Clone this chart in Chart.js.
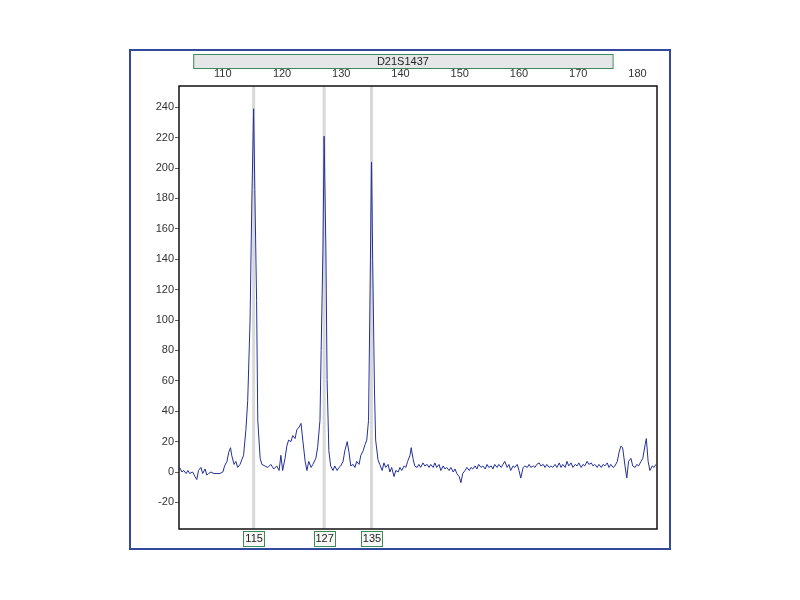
<!DOCTYPE html>
<html>
<head>
<meta charset="utf-8">
<script src="https://cdn.jsdelivr.net/npm/chart.js@4"></script>
<style>
  html, body { margin: 0; padding: 0; background: #fff; }
  #wrap { position: relative; width: 800px; height: 600px; }
  #frame { position: absolute; left: 129px; top: 49px; width: 542px; height: 501px;
           box-sizing: border-box; border: 2px solid #34499c; pointer-events: none; }
  canvas { position: absolute; left: 0; top: 0; }
</style>
</head>
<body>
<div id="wrap">
  <canvas id="traceChart" width="800" height="600"></canvas>
  <div id="frame"></div>
</div>
<script>
// --- Data ---
const markerName = 'D21S1437';
const binStart = 105;     // grey marker bar range (bp)
const binEnd = 175.8;

const xTicks = [110, 120, 130, 140, 150, 160, 170, 180];
const yTicks = [-20, 0, 20, 40, 60, 80, 100, 120, 140, 160, 180, 200, 220, 240];

const alleleSize = [115.2, 127.1, 135.1];
const alleleLabel = ['115', '127', '135'];

// size (bp) and signal (RFU) of the blue trace
const sizeBp = [
  102.7, 103.1, 103.4, 103.8, 104.1, 104.4, 104.9, 105.3, 105.6, 105.9,
  106.3, 106.6, 107.0, 107.3, 107.6, 108.0, 108.5, 109.0, 109.5, 110.0,
  110.3, 110.7, 111.0, 111.3, 111.5, 111.9, 112.2, 112.5, 112.9, 113.2,
  113.5, 113.9, 114.2, 114.6, 114.9, 115.2, 115.4, 115.7, 115.9, 116.3,
  116.6, 117.1, 117.6, 118.1, 118.6, 119.1, 119.5, 119.8, 120.1, 120.5,
  120.8, 121.1, 121.5, 121.8, 122.2, 122.5, 122.8, 123.2, 123.5, 123.9,
  124.2, 124.5, 124.9, 125.2, 125.7, 126.0, 126.4, 126.6, 126.9, 127.1,
  127.4, 127.6, 127.9, 128.2, 128.6, 128.9, 129.3, 129.6, 129.9, 130.3,
  130.6, 131.0, 131.3, 131.6, 132.0, 132.3, 132.6, 133.0, 133.3, 133.7,
  134.0, 134.3, 134.6, 134.8, 135.1, 135.3, 135.6, 135.8, 136.2, 136.5,
  136.9, 137.2, 137.5, 137.9, 138.2, 138.5, 138.9, 139.2, 139.6, 139.9,
  140.2, 140.6, 140.9, 141.2, 141.6, 141.8, 142.1, 142.4, 142.8, 143.1,
  143.4, 143.8, 144.1, 144.5, 144.8, 145.1, 145.5, 145.8, 146.1, 146.5,
  146.8, 147.2, 147.5, 147.8, 148.2, 148.5, 148.9, 149.2, 149.5, 149.9,
  150.2, 150.5, 150.9, 151.2, 151.6, 151.9, 152.2, 152.6, 152.9, 153.2,
  153.6, 153.9, 154.3, 154.6, 154.9, 155.3, 155.6, 155.9, 156.3, 156.6,
  157.0, 157.3, 157.6, 158.0, 158.3, 158.6, 159.0, 159.3, 159.7, 160.0,
  160.3, 160.7, 161.0, 161.4, 161.7, 162.0, 162.4, 162.7, 163.0, 163.4,
  163.7, 164.1, 164.4, 164.7, 165.1, 165.4, 165.7, 166.1, 166.4, 166.8,
  167.1, 167.4, 167.8, 168.1, 168.4, 168.8, 169.1, 169.5, 169.8, 170.1,
  170.5, 170.8, 171.1, 171.5, 171.8, 172.2, 172.5, 172.8, 173.2, 173.5,
  173.9, 174.2, 174.5, 174.9, 175.2, 175.5, 175.9, 176.2, 176.6, 176.9,
  177.2, 177.5, 177.9, 178.2, 178.5, 178.9, 179.2, 179.6, 179.9, 180.2,
  180.6, 180.9, 181.3, 181.5, 181.8, 182.1, 182.5, 182.8, 183.1
];
const rfu = [
  3, 0, 1, -1, 1, -1, 0, -3, -5, 1,
  3, -1, 2, -2, -1, 0, -1, -1, -1, 0,
  4, 7, 13, 16, 11, 5, 7, 3, 5, 8,
  11, 28, 47, 100, 179, 239, 186, 113, 34, 9,
  5, 4, 3, 5, 2, 4, 1, 11, 1, 9,
  17, 21, 20, 24, 22, 28, 29, 32, 21, 7,
  1, 7, 3, 5, 9, 16, 34, 80, 146, 221,
  146, 61, 14, 4, 1, 4, 1, 3, 4, 7,
  14, 20, 13, 4, 5, 3, 7, 5, 11, 14,
  18, 21, 34, 100, 204, 139, 54, 21, 8, 5,
  1, 6, 3, 5, 0, 3, -3, 1, 0, 3,
  1, 4, 3, 7, 11, 16, 9, 4, 3, 5,
  3, 6, 4, 5, 3, 5, 3, 6, 3, 5,
  1, 4, 2, 3, 1, 3, 0, 2, -1, -3,
  -7, -1, 1, 3, 1, 3, 2, 4, 2, 5,
  3, 4, 2, 5, 3, 4, 2, 5, 3, 5,
  3, 5, 7, 3, 5, 1, 4, 3, 5, 1,
  -4, 3, 4, 3, 5, 3, 4, 3, 5, 6,
  4, 5, 3, 5, 3, 4, 3, 5, 3, 6,
  3, 5, 3, 7, 4, 6, 3, 5, 4, 6,
  3, 5, 4, 7, 5, 6, 4, 5, 3, 5,
  3, 5, 4, 6, 3, 5, 3, 4, 7, 13,
  17, 16, 4, -4, 7, 9, 4, 3, 5, 4,
  7, 9, 18, 22, 7, 1, 4, 3, 5
];

const labelFont = { family: '"Liberation Sans", Arial, sans-serif', size: 11 };

// --- Markers, header bar and boxes drawn through the scales ---
const markerPlugin = {
  id: 'markerPlugin',
  beforeDatasetsDraw(chart) {
    const { ctx, chartArea, scales } = chart;
    ctx.save();
    ctx.strokeStyle = '#d9d9d9';
    ctx.lineWidth = 3;
    alleleSize.forEach(v => {
      const px = scales.x.getPixelForValue(v);
      ctx.beginPath();
      ctx.moveTo(px, chartArea.top);
      ctx.lineTo(px, chartArea.bottom);
      ctx.stroke();
    });
    ctx.restore();
  },
  afterDraw(chart) {
    const { ctx, chartArea, scales } = chart;
    ctx.save();
    // plot box
    ctx.strokeStyle = '#111';
    ctx.lineWidth = 1.5;
    ctx.strokeRect(chartArea.left, chartArea.top, chartArea.right - chartArea.left, chartArea.bottom - chartArea.top);

    // marker name bar
    const x0 = scales.x.getPixelForValue(binStart);
    const x1 = scales.x.getPixelForValue(binEnd);
    ctx.fillStyle = '#e6e6e8';
    ctx.fillRect(x0, 54, x1 - x0, 14);
    ctx.strokeStyle = '#3f8a5c';
    ctx.lineWidth = 1;
    ctx.strokeRect(x0 + 0.5, 54.5, x1 - x0, 14);
    ctx.fillStyle = '#222';
    ctx.font = '11px "Liberation Sans", Arial, sans-serif';
    ctx.textAlign = 'center';
    ctx.textBaseline = 'middle';
    ctx.fillText(markerName, (x0 + x1) / 2, 61.5);

    // allele call boxes
    alleleSize.forEach((v, i) => {
      const px = scales.x.getPixelForValue(v);
      const w = 21, h = 15;
      const top = chartArea.bottom + 1.5;
      ctx.fillStyle = '#f6f8f6';
      ctx.fillRect(px - w / 2, top, w, h);
      ctx.strokeStyle = '#3d8a55';
      ctx.strokeRect(Math.round(px - w / 2) + 0.5, Math.round(top) + 0.5, w, h);
      ctx.fillStyle = '#222';
      ctx.fillText(alleleLabel[i], px + 0.5, top + h / 2 + 1);
    });
    ctx.restore();
  }
};

const ctx = document.getElementById('traceChart').getContext('2d');
new Chart(ctx, {
  type: 'line',
  data: {
    datasets: [{
      data: sizeBp.map((s, i) => ({ x: s, y: rfu[i] })),
      borderColor: '#23309a',
      borderWidth: 1,
      pointRadius: 0,
      tension: 0,
      fill: false
    }]
  },
  options: {
    responsive: false,
    animation: false,
    layout: { padding: { left: 139, right: 143, top: 50, bottom: 71 } },
    plugins: { legend: { display: false }, tooltip: { enabled: false } },
    scales: {
      x: {
        type: 'linear',
        position: 'top',
        min: 102.6,
        max: 183.3,
        afterFit(scale) { scale.height = 36; },
        afterBuildTicks(scale) { scale.ticks = xTicks.map(v => ({ value: v })); },
        grid: { display: false, drawTicks: false },
        border: { display: false },
        ticks: { color: '#333', font: labelFont, padding: 5, maxRotation: 0 }
      },
      y: {
        min: -37.5,
        max: 254,
        afterFit(scale) { scale.width = 40; },
        afterBuildTicks(scale) { scale.ticks = yTicks.map(v => ({ value: v })); },
        grid: { drawOnChartArea: false, drawTicks: true, tickLength: 4, color: '#666' },
        border: { display: false },
        ticks: { color: '#333', font: labelFont, padding: 1 }
      }
    }
  },
  plugins: [markerPlugin]
});
</script>
</body>
</html>
